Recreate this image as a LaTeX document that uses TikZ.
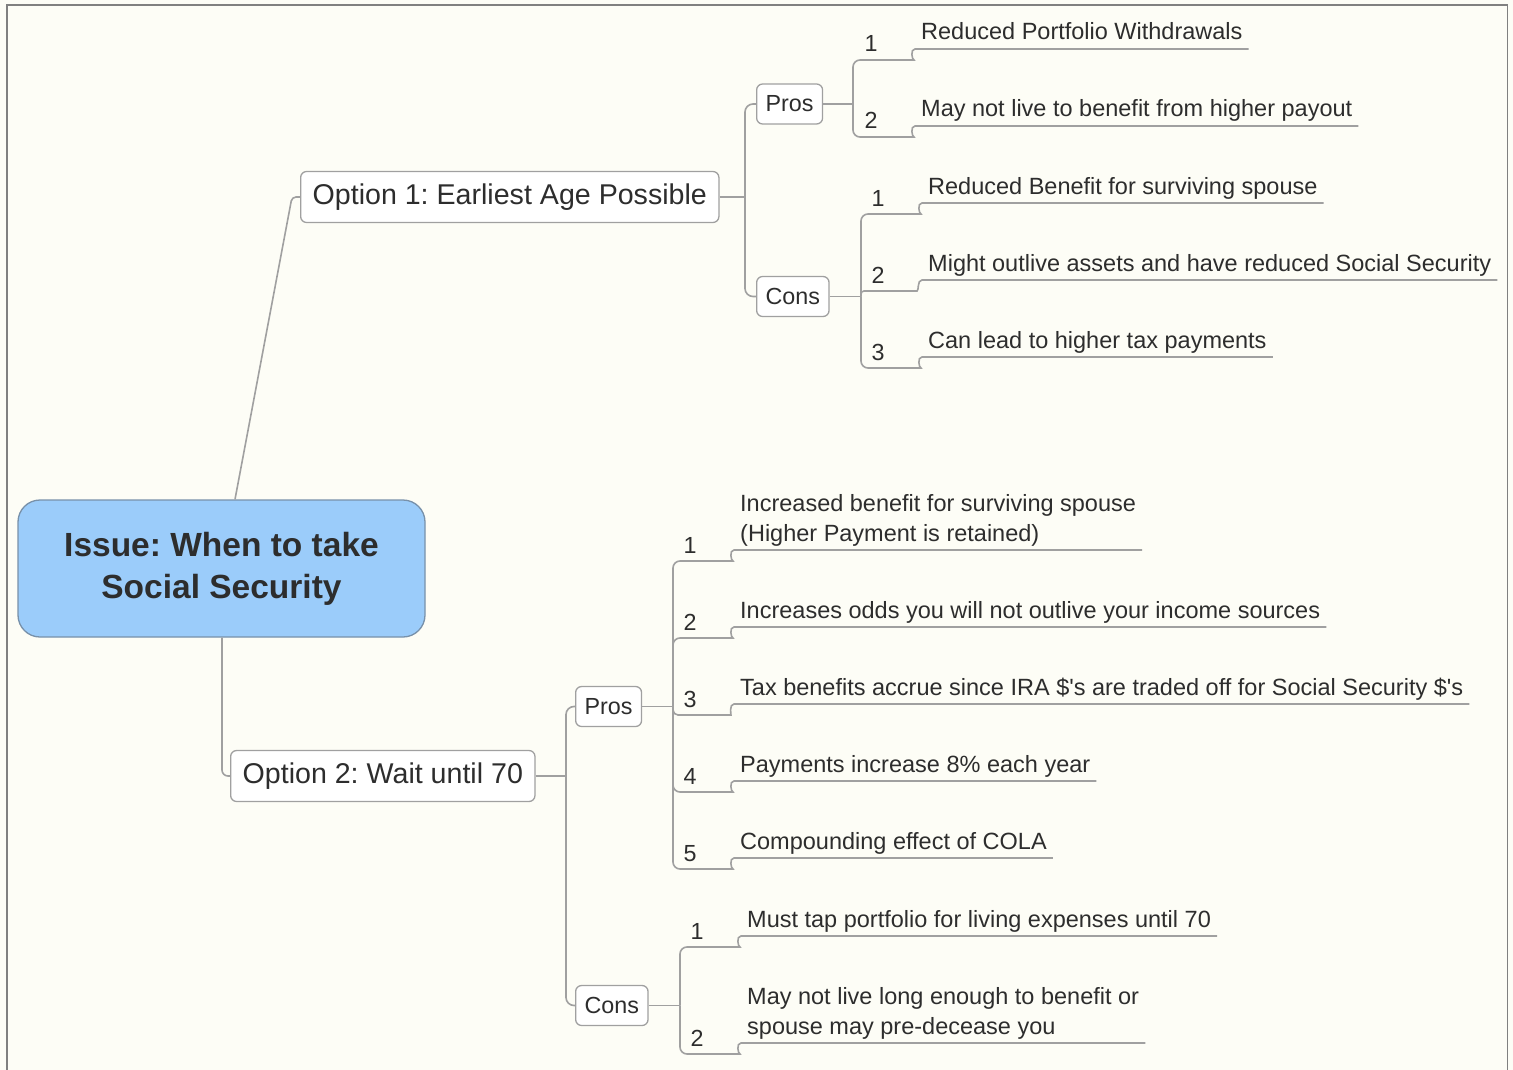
\documentclass[tikz,border=0pt]{standalone}
\usepackage{fontspec}
\setmainfont{Liberation Sans}
\usetikzlibrary{calc}
\frenchspacing
\definecolor{bgc}{RGB}{253,253,246}
\definecolor{framec}{RGB}{128,128,128}
\definecolor{connc}{RGB}{160,160,160}
\definecolor{boxc}{RGB}{160,160,160}
\definecolor{txtc}{RGB}{45,45,45}
\definecolor{centralfill}{RGB}{155,204,250}
\definecolor{centraldraw}{RGB}{120,145,170}
\tikzset{
  conn/.style={draw=connc, line width=1.6pt},
  topicbox/.style={draw=boxc, fill=white, line width=1.3pt, rounded corners=6pt,
     text=txtc, inner xsep=11pt, inner ysep=0pt, anchor=west},
  optbox/.style={topicbox, font=\fontsize{28.6}{32}\selectfont, minimum height=51pt, inner xsep=12pt},
  pcbox/.style={topicbox, font=\fontsize{23.3}{27}\selectfont, minimum height=40pt, inner xsep=9pt},
  centralbox/.style={draw=centraldraw, fill=centralfill, line width=1.3pt, rounded corners=22pt,
     text=txtc, font=\fontsize{33.5}{42}\selectfont\bfseries, align=center,
     minimum width=407pt, minimum height=137pt},
  leaf/.style={inner sep=0pt, anchor=base west, text=txtc, font=\fontsize{23.5}{27}\selectfont},
  num/.style={inner sep=0pt, anchor=base, text=txtc, font=\fontsize{23.3}{27}\selectfont},
}
\begin{document}
\begin{tikzpicture}[x=1pt,y=-1pt]
\useasboundingbox (0,0) rectangle (1513,1070);
\fill[bgc] (0,0) rectangle (1513,1070);
\draw[framec, line width=1.6pt] (7,1100) -- (7,5) -- (1507.5,5) -- (1507.5,1100);

% main nodes
\node[centralbox] (C) at (221.5,568.5) {Issue: When to take\\Social Security};
\node[optbox] (O1) at (300,197) {Option 1: Earliest Age Possible};
\node[optbox] (O2) at (230,776) {Option 2: Wait until 70};
\node[pcbox] (P1) at (756,104) {Pros};
\node[pcbox] (K1) at (756,296.5) {Cons};
\node[pcbox] (P2) at (575,706.5) {Pros};
\node[pcbox] (K2) at (575,1005.5) {Cons};

% central connectors
\draw[conn, rounded corners=4pt] ([xshift=13.5pt]C.north) -- (292,197) -- (O1.west);
\draw[conn, rounded corners=6pt] ([xshift=0.5pt]C.south) |- (O2.west);

% option 1 -> pros/cons
\coordinate (b1) at (745,197);
\draw[conn] (O1.east) -- (b1);
\draw[conn, rounded corners=8pt] (P1.west) -| (b1) |- (K1.west);

% option 2 -> pros/cons
\coordinate (b2) at (566,776);
\draw[conn] (O2.east) -- (b2);
\draw[conn, rounded corners=8pt] (P2.west) -| (b2) |- (K2.west);

% ---------- Option 1 Pros ----------
\node[leaf] (a1) at (921,40) {Reduced Portfolio Withdrawals};
\node[leaf] (a2) at (921,117) {May not live to benefit from higher payout};
\node[num] (na1) at (871,52) {1};
\node[num] (na2) at (871,129) {2};
\coordinate (ba) at (853,104);
\draw[conn] (P1.east) -- (ba);
\draw[conn, rounded corners=7pt] (ba) |- (907,60) [sharp corners] .. controls (912,60) and (910,49) .. (915,49) -- ($(a1.base east)+(6,9)$);
\draw[conn, rounded corners=7pt] (ba) |- (907,137) [sharp corners] .. controls (912,137) and (910,126) .. (915,126) -- ($(a2.base east)+(6,9)$);

% ---------- Option 1 Cons ----------
\node[leaf] (k1) at (928,194) {Reduced Benefit for surviving spouse};
\node[leaf] (k2) at (928,271) {Might outlive assets and have reduced Social Security};
\node[leaf] (k3) at (928,348) {Can lead to higher tax payments};
\node[num] (nk1) at (878,206) {1};
\node[num] (nk2) at (878,283) {2};
\node[num] (nk3) at (878,360) {3};
\coordinate (bk) at (861,296.5);
\draw[conn] (K1.east) -- (bk);
\draw[conn, rounded corners=7pt] (bk) |- (914,214) [sharp corners] .. controls (919,214) and (917,203) .. (922,203) -- ($(k1.base east)+(6,9)$);
\draw[conn, rounded corners=3pt] (bk) |- (914,291) [sharp corners] .. controls (919,291) and (917,280) .. (922,280) -- ($(k2.base east)+(6,9)$);
\draw[conn, rounded corners=7pt] (bk) |- (914,368) [sharp corners] .. controls (919,368) and (917,357) .. (922,357) -- ($(k3.base east)+(6,9)$);

% ---------- Option 2 Pros ----------
\node[leaf] (c1) at (740,511) {Increased benefit for surviving spouse};
\node[leaf] (c1b) at (740,541) {(Higher Payment is retained)};
\node[leaf] (c2) at (740,618) {Increases odds you will not outlive your income sources};
\node[leaf] (c3) at (740,695) {Tax benefits accrue since IRA \$\textquotesingle s are traded off for Social Security \$\textquotesingle s};
\node[leaf] (c4) at (740,772) {Payments increase 8\% each year};
\node[leaf] (c5) at (740,849) {Compounding effect of COLA};
\node[num] (nc1) at (690,553) {1};
\node[num] (nc2) at (690,630) {2};
\node[num] (nc3) at (690,707) {3};
\node[num] (nc4) at (690,784) {4};
\node[num] (nc5) at (690,861) {5};
\coordinate (bc) at (673,706.5);
\draw[conn] (P2.east) -- (bc);
\path let \p1=(c1.base east), \p2=(c1b.base east), \n1={max(\x1,\x2)} in coordinate (c1end) at (\n1+6pt,550);
\draw[conn, rounded corners=7pt] (bc) |- (726,561) [sharp corners] .. controls (731,561) and (729,550) .. (734,550) -- (c1end);
\draw[conn, rounded corners=7pt] (bc) |- (726,638) [sharp corners] .. controls (731,638) and (729,627) .. (734,627) -- ($(c2.base east)+(6,9)$);
\draw[conn, rounded corners=5pt] (bc) |- (726,715) [sharp corners] .. controls (731,715) and (729,704) .. (734,704) -- ($(c3.base east)+(6,9)$);
\draw[conn, rounded corners=7pt] (bc) |- (726,792) [sharp corners] .. controls (731,792) and (729,781) .. (734,781) -- ($(c4.base east)+(6,9)$);
\draw[conn, rounded corners=7pt] (bc) |- (726,869) [sharp corners] .. controls (731,869) and (729,858) .. (734,858) -- ($(c5.base east)+(6,9)$);

% ---------- Option 2 Cons ----------
\node[leaf] (d1) at (747,927) {Must tap portfolio for living expenses until 70};
\node[leaf] (d2) at (747,1004) {May not live long enough to benefit or};
\node[leaf] (d2b) at (747,1034) {spouse may pre-decease you};
\node[num] (nd1) at (697,939) {1};
\node[num] (nd2) at (697,1046) {2};
\coordinate (bd) at (680,1005.5);
\draw[conn] (K2.east) -- (bd);
\draw[conn, rounded corners=7pt] (bd) |- (733,947) [sharp corners] .. controls (738,947) and (736,936) .. (741,936) -- ($(d1.base east)+(6,9)$);
\path let \p1=(d2.base east), \p2=(d2b.base east), \n1={max(\x1,\x2)} in coordinate (d2end) at (\n1+6pt,1043);
\draw[conn, rounded corners=7pt] (bd) |- (733,1054) [sharp corners] .. controls (738,1054) and (736,1043) .. (741,1043) -- (d2end);
\end{tikzpicture}
\end{document}
